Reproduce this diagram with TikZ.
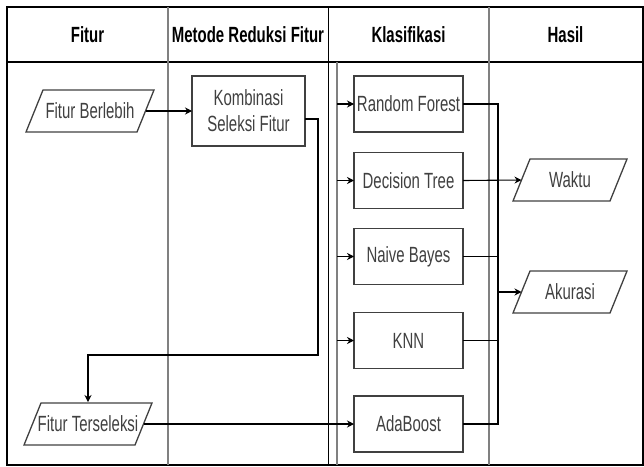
\documentclass[tikz,border=0pt]{standalone}
\usepackage{fontspec}
\setmainfont{Liberation Sans}[FakeStretch=0.68]
\usetikzlibrary{arrows.meta}

\begin{document}
\begin{tikzpicture}[x=1pt,y=1pt,yscale=-1,inner sep=0pt,outer sep=0pt,
  font=\fontsize{22}{26}\selectfont,
  frame/.style={draw=black,line width=1.4pt},
  divider/.style={draw=gray,line width=1.6pt},
  proc/.style={draw=darkgray,line width=1.3pt,fill=white,text=darkgray,align=center,
    minimum width=109pt,minimum height=56pt},
  data/.style={text=darkgray,minimum height=42pt,minimum width=111pt},
  dataline/.style={draw=darkgray,line width=1.3pt,line join=miter},
  conn/.style={draw=black,line width=1.1pt},
  arr/.style={conn,-{Stealth[length=7pt,width=7pt]}},
  head/.style={font=\fontsize{22}{26}\selectfont\bfseries}]
\useasboundingbox (0,0) rectangle (644,466);

% lanes
\path[frame] (7,7) rectangle (643,465);
\path[frame] (7,62) -- (643,62);
\path[divider] (168,7) -- (168,465);
\path[draw=black,line width=1pt] (328,7) -- (328,465);
\path[divider] (337,62) -- (337,465);
\path[divider] (489,7) -- (489,465);
\coordinate (inner) at (337,62);
\coordinate (bus) at (498,62);
\coordinate (turn) at (318,355);

\node[head] (hfitur) at (87.5,35) {Fitur};
\node[head] (hmetode) at (248,35) {Metode Reduksi Fitur};
\node[head] (hklas) at (408.5,35) {Klasifikasi};
\node[head] (hhasil) at (565.5,35) {Hasil};

% shapes
\node[data] (berlebih) at (90,111) {Fitur Berlebih};
\node[data] (tersel) at (88,424) {Fitur Terseleksi};
\node[proc,minimum width=113pt,minimum height=70pt] (komb) at (248.5,111)
  {Kombinasi\\Seleksi Fitur};
\node[proc] (rf) at (408.5,104) {Random Forest};
\node[proc] (dt) at (408.5,180.5) {Decision Tree};
\node[proc] (nb) at (408.5,256.5) {Naive Bayes};
\node[proc] (knn) at (408.5,340.5) {KNN};
\node[proc] (ada) at (408.5,424) {AdaBoost};
\node[data,minimum width=97pt] (waktu) at (570,180) {Waktu};
\node[data,minimum width=97pt] (akurasi) at (570,292) {Akurasi};
\foreach \n in {berlebih,tersel,waktu,akurasi}
  \path[dataline] ([xshift=-8.5pt]\n.south west) -- ([xshift=8.5pt]\n.north west)
    -- ([xshift=8.5pt]\n.north east) -- ([xshift=-8.5pt]\n.south east) -- cycle;

% connectors
\path[arr] (berlebih.east) -- (komb.west);
\path[arr] ([yshift=8pt]komb.east) -| (turn) -| ([yshift=-1pt]tersel.north);
\path[arr] (tersel.east) -- (ada.west);
\foreach \n in {rf,dt,nb,knn}
  \path[arr] (inner |- \n.west) -- (\n.west);
\path[conn] (rf.east) -| (bus |- ada.east) -- (ada.east);
\path[conn] (nb.east) -- (bus |- nb.east);
\path[conn] (knn.east) -- (bus |- knn.east);
\path[arr] (dt.east) -- (waktu.west);
\path[arr] (bus |- akurasi.west) -- (akurasi.west);

\end{tikzpicture}
\end{document}
